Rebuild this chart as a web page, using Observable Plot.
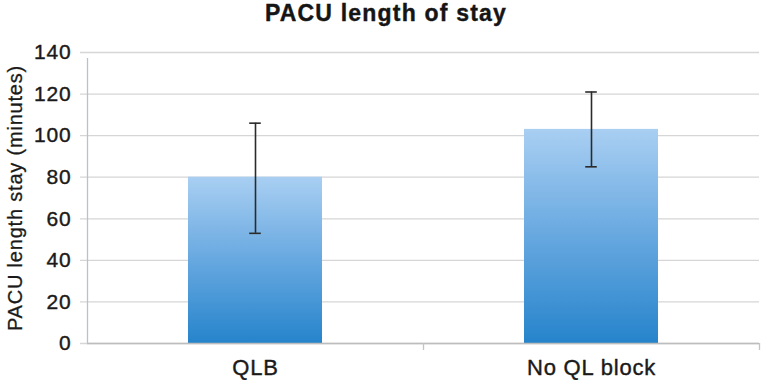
<!DOCTYPE html>
<html>
<head>
<meta charset="utf-8">
<script src="https://cdn.jsdelivr.net/npm/d3@7"></script>
<script src="https://cdn.jsdelivr.net/npm/@observablehq/plot@0.6"></script>
<style>
  html, body { margin: 0; padding: 0; background: #fff; }
  #title { height: 34px; line-height: 26px; text-align: center; font: bold 23px "Liberation Sans", Arial, sans-serif; letter-spacing: 1.2px; color: #151515; padding-left: 4px; box-sizing: border-box; -webkit-text-stroke: 0.4px #151515; }
</style>
</head>
<body>
<div id="title">PACU length of stay</div>
<div id="chart"></div>
<script>
const categories = ["QLB", "No QL block"];
const means = [80, 103];
const lower = [53, 85];
const upper = [106, 121];
const yTicks = [0, 20, 40, 60, 80, 100, 120, 140];
const yLabel = "PACU length stay (minutes)";

const data = categories.map((c, i) => ({cat: c, mean: means[i], lo: lower[i], hi: upper[i]}));

const W = 768, H = 346, mL = 87, mR = 9, mT = 18, mB = 37;
const pInner = 0.6, pOuter = 0.3;
const step = (W - mL - mR) / (categories.length - pInner + 2 * pOuter);
const band = step * (1 - pInner);
const capW = 12;
const font = "'Liberation Sans', Arial, sans-serif";
const ink = "#1a1a1a";

const chart = Plot.plot({
  width: W, height: H,
  marginLeft: mL, marginRight: mR, marginTop: mT, marginBottom: mB,
  style: {fontFamily: font, background: "#fff"},
  x: {domain: categories, paddingInner: pInner, paddingOuter: pOuter, axis: null},
  y: {domain: [0, 140], axis: null},
  marks: [
    Plot.ruleY(yTicks, {y: d => d, stroke: "#d6d6d6", strokeWidth: 1.3, insetLeft: -7}),
    Plot.barY(data, {x: "cat", y: "mean", fill: "url(#barGrad)"}),
    Plot.ruleY([0], {stroke: "#bdbdbd", strokeWidth: 1.5}),
    Plot.ruleX([categories[0]], {x: d => d, y1: 0, y2: 140, dx: -step / 2, stroke: "#b7c2cb", strokeWidth: 1.3, insetBottom: -6}),
    Plot.ruleX(categories.slice(1), {x: d => d, y1: 0, y2: 0, dx: -step / 2, stroke: "#c4c4c4", strokeWidth: 1.3, insetBottom: -7}),
    Plot.ruleX(categories.slice(-1), {x: d => d, y1: 0, y2: 0, dx: step / 2, stroke: "#c4c4c4", strokeWidth: 1.3, insetBottom: -7}),
    Plot.ruleX(data, {x: "cat", y1: "lo", y2: "hi", stroke: "#2b2b2b", strokeWidth: 1.6}),
    Plot.tickY(data, {x: "cat", y: "lo", stroke: "#2b2b2b", strokeWidth: 1.6, insetLeft: (band - capW) / 2, insetRight: (band - capW) / 2}),
    Plot.tickY(data, {x: "cat", y: "hi", stroke: "#2b2b2b", strokeWidth: 1.6, insetLeft: (band - capW) / 2, insetRight: (band - capW) / 2}),
    Plot.text(yTicks, {y: d => d, text: d => String(d), frameAnchor: "left", textAnchor: "end", dx: -16, fontSize: 21, fill: ink, stroke: ink, strokeWidth: 0.4}),
    Plot.text(categories, {x: d => d, text: d => d, frameAnchor: "bottom", lineAnchor: "middle", dy: 24, fontSize: 22, fill: ink, stroke: ink, strokeWidth: 0.4}),
    Plot.text([yLabel], {text: d => d, frameAnchor: "left", rotate: -90, textAnchor: "middle", lineAnchor: "middle", dx: -72, fontSize: 20, fill: ink, stroke: ink, strokeWidth: 0.3})
  ]
});

const svg = d3.select(chart);
const defs = svg.insert("defs", ":first-child");
const g = defs.append("linearGradient").attr("id", "barGrad").attr("x1", 0).attr("y1", 0).attr("x2", 0).attr("y2", 1);
g.append("stop").attr("offset", "0%").attr("stop-color", "#a9cff2");
g.append("stop").attr("offset", "50%").attr("stop-color", "#67a8e0");
g.append("stop").attr("offset", "100%").attr("stop-color", "#2684cb");

// slight letter spacing to mimic the wide rendering of the original
svg.selectAll("text").style("letter-spacing", "0.8px");

document.getElementById("chart").appendChild(chart);
</script>
</body>
</html>
